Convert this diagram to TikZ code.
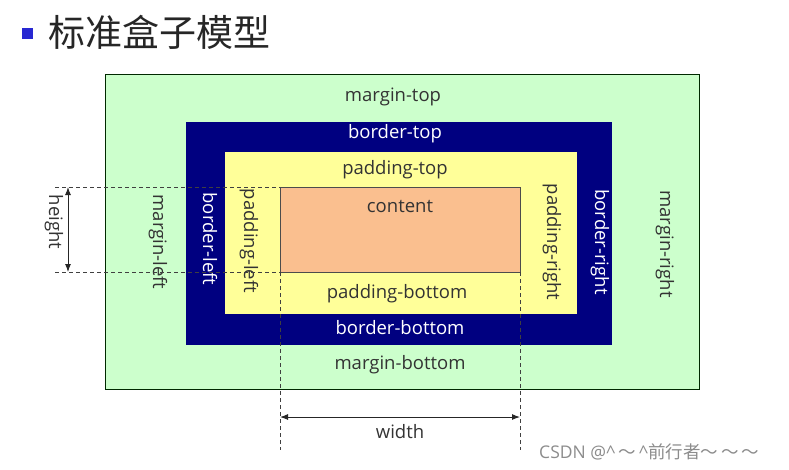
\documentclass[tikz,border=0pt]{standalone}
\usepackage{fontspec}
\setmainfont{Open Sans}
\newfontfamily\cjk{Noto Sans CJK SC}
\usetikzlibrary{arrows.meta}

\definecolor{marginColor}{RGB}{204,255,204}
\definecolor{borderColor}{RGB}{0,0,128}
\definecolor{paddingColor}{RGB}{255,255,153}
\definecolor{contentColor}{RGB}{250,191,143}
\definecolor{bulletColor}{RGB}{40,40,210}

\tikzset{
  boxlabel/.style={inner sep=0pt, outer sep=0pt, font=\fontsize{18.5}{18.5}\selectfont, text=black!80},
  borderlabel/.style={boxlabel, text=white},
  sidelabel/.style={boxlabel, rotate=-90},
  guide/.style={draw=black!75, dash pattern=on 4pt off 3pt, line width=0.9pt},
  dimension/.style={draw=black!85, line width=1pt, {Latex[length=8pt,width=6pt]}-{Latex[length=8pt,width=6pt]}}
}

\begin{document}
\begin{tikzpicture}[x=1pt,y=-1pt]
\useasboundingbox[fill=white] (0,0) rectangle (789,469);

% title
\path[fill=bulletColor] (22,28) rectangle (33,39);
\node[anchor=west, inner sep=0pt, font=\cjk\fontsize{37}{37}\selectfont, text=black!85] (title) at (48,32) {标准盒子模型};

% boxes
\begin{scope}
\path[fill=marginColor, draw=black!60!green!40!black, line width=0.7pt] (105,74) rectangle (699,389);
\path[fill=borderColor] (186,122) rectangle (612,345);
\path[fill=paddingColor] (225,152) rectangle (577,314);
\path[fill=contentColor, draw=black!70, line width=0.7pt] (280,187) rectangle (520,272);
\end{scope}

% labels
\node[boxlabel] (marginTop) at (393,97) {margin-top};
\node[borderlabel] (borderTop) at (395,134) {border-top};
\node[boxlabel] (paddingTop) at (395,170) {padding-top};
\node[boxlabel] (content) at (400,206) {content};
\node[boxlabel] (paddingBottom) at (397,294) {padding-bottom};
\node[borderlabel] (borderBottom) at (400,328) {border-bottom};
\node[boxlabel] (marginBottom) at (400,365) {margin-bottom};

\node[sidelabel] (marginLeft) at (158,242) {margin-left};
\node[sidelabel, text=white] (borderLeft) at (210,239) {border-left};
\node[sidelabel] (paddingLeft) at (249,241) {padding-left};
\node[sidelabel] (paddingRight) at (552,242) {padding-right};
\node[sidelabel, text=white] (borderRight) at (600,242) {border-right};
\node[sidelabel] (marginRight) at (665,244) {margin-right};

% height
\coordinate (hTopL) at (55,187);
\coordinate (hTopR) at (280,187);
\coordinate (hBotL) at (55,272);
\coordinate (hBotR) at (280,272);
\coordinate (hArrTop) at (68,187);
\coordinate (hArrBot) at (68,272);
\draw[guide] (hTopL) -- (hTopR);
\draw[guide] (hBotL) -- (hBotR);
\draw[dimension] (hArrTop) -- (hArrBot);
\node[sidelabel] (height) at (54,222) {height};

% width
\coordinate (wLeftT) at (280,272);
\coordinate (wLeftB) at (280,450);
\coordinate (wRightT) at (520,272);
\coordinate (wRightB) at (520,450);
\coordinate (wArrL) at (280,417);
\coordinate (wArrR) at (520,417);
\draw[guide] (wLeftT) -- (wLeftB);
\draw[guide] (wRightT) -- (wRightB);
\draw[dimension] (wArrL) -- (wArrR);
\node[boxlabel] (width) at (400,432) {width};

% watermark
\node[anchor=west, inner sep=0pt, text=black!45, font=\fontsize{17.5}{17.5}\selectfont] (mark) at (539,452) {CSDN @\^{}\,{\cjk ～}\,\^{}{\cjk 前行者～\,～\,～}};
\end{tikzpicture}
\end{document}
